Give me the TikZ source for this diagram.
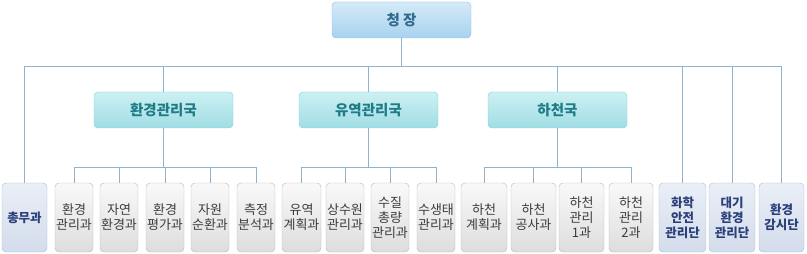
\documentclass[tikz,border=0pt]{standalone}
\usepackage{fontspec}
\newfontfamily\kr{Noto Sans CJK KR}
\usepackage{tikz}

\definecolor{linec}{HTML}{8FB3CC}
\definecolor{chiefedge}{HTML}{8CBFE2}
\definecolor{chieftext}{HTML}{2F6B8E}
\definecolor{bureauedge}{HTML}{7DD0DA}
\definecolor{bureautext}{HTML}{1F7C86}
\definecolor{divedge}{HTML}{B8B8B8}
\definecolor{divtext}{HTML}{3C3C3C}
\definecolor{unitedge}{HTML}{A9B9D3}
\definecolor{unittext}{HTML}{2B3F7A}
\definecolor{chieftop}{HTML}{D5EAF8}
\definecolor{chiefbot}{HTML}{A8D2EF}
\definecolor{bureautop}{HTML}{CCF0F3}
\definecolor{bureaubot}{HTML}{A0DEE5}
\definecolor{divtop}{HTML}{F9F9F9}
\definecolor{divbot}{HTML}{DDDDDD}
\definecolor{unittop}{HTML}{EAEFF7}
\definecolor{unitbot}{HTML}{D3DCEB}

\tikzset{
  chiefbox/.style={draw=chiefedge, top color=chieftop, bottom color=chiefbot,
    rounded corners=4pt, minimum width=139pt, minimum height=36pt, inner sep=0pt,
    text=chieftext, font=\kr\bfseries\fontsize{14.5}{16}\selectfont},
  bureaubox/.style={draw=bureauedge, top color=bureautop, bottom color=bureaubot,
    rounded corners=4pt, minimum width=139pt, minimum height=36pt, inner sep=0pt,
    text=bureautext, font=\kr\bfseries\fontsize{14.5}{16}\selectfont},
  divbox/.style={draw=divedge, top color=divtop, bottom color=divbot,
    rounded corners=4pt, minimum height=69pt, inner sep=0pt, align=center,
    text=divtext, font=\kr\fontsize{13}{15}\selectfont},
  unitbox/.style={draw=unitedge, top color=unittop, bottom color=unitbot,
    rounded corners=4pt, minimum height=69pt, inner sep=0pt, align=center,
    text=unittext, font=\kr\bfseries\fontsize{12.5}{15}\selectfont},
  link/.style={draw=linec, line width=0.9pt}
}

\begin{document}
\begin{tikzpicture}[x=1pt, y=-1pt]
\useasboundingbox (0,0) rectangle (807,254);

% Commissioner
\node[chiefbox] (chief) at (401.5,20) {청 장};

% Bureaus
\node[bureaubox] (envb) at (163.5,110) {환경관리국};
\node[bureaubox] (basinb) at (368.5,110) {유역관리국};
\node[bureaubox] (riverb) at (557.5,110) {하천국};

% Units directly under the commissioner
\node[unitbox, minimum width=45pt] (gen) at (24.5,217.5) {총무과};
\node[unitbox, minimum width=47pt] (chem) at (682.5,217.5) {화학\\안전\\관리단};
\node[unitbox, minimum width=46pt] (air) at (732,217.5) {대기\\환경\\관리단};
\node[unitbox, minimum width=45pt] (watch) at (781.5,217.5) {환경\\감시단};

% Divisions of the environment bureau
\node[divbox, minimum width=38pt] (env1) at (74,217.5) {환경\\관리과};
\node[divbox, minimum width=38pt] (env2) at (119,217.5) {자연\\환경과};
\node[divbox, minimum width=38pt] (env3) at (165,217.5) {환경\\평가과};
\node[divbox, minimum width=38pt] (env4) at (210,217.5) {자원\\순환과};
\node[divbox, minimum width=38pt] (env5) at (256,217.5) {측정\\분석과};

% Divisions of the basin bureau
\node[divbox, minimum width=39pt] (bas1) at (301.5,217.5) {유역\\계획과};
\node[divbox, minimum width=38pt] (bas2) at (345,217.5) {상수원\\관리과};
\node[divbox, minimum width=38pt] (bas3) at (390,217.5) {수질\\총량\\관리과};
\node[divbox, minimum width=38pt] (bas4) at (436,217.5) {수생태\\관리과};

% Divisions of the river bureau
\node[divbox, minimum width=46pt] (riv1) at (484,217.5) {하천\\계획과};
\node[divbox, minimum width=45pt] (riv2) at (533.5,217.5) {하천\\공사과};
\node[divbox, minimum width=45pt] (riv3) at (581.5,217.5) {하천\\관리\\1과};
\node[divbox, minimum width=44pt] (riv4) at (631,217.5) {하천\\관리\\2과};

% Main bus
\coordinate (bus) at (0,66);
\draw[link] (chief.south) -- (chief.south |- bus);
\draw[link] (gen.north) |- (watch.north |- bus) -- (watch.north);
\foreach \n in {envb, basinb, riverb, chem, air}
  \draw[link] (\n.north) -- (\n.north |- bus);

% Bureau buses
\coordinate (sub) at (0,167);
\draw[link] (envb.south) -- (envb.south |- sub);
\draw[link] (env1.north) |- (env5.north |- sub) -- (env5.north);
\foreach \n in {env2, env3, env4}
  \draw[link] (\n.north) -- (\n.north |- sub);

\draw[link] (basinb.south) -- (basinb.south |- sub);
\draw[link] (bas1.north) |- (bas4.north |- sub) -- (bas4.north);
\foreach \n in {bas2, bas3}
  \draw[link] (\n.north) -- (\n.north |- sub);

\draw[link] (riverb.south) -- (riverb.south |- sub);
\draw[link] (riv1.north) |- (riv4.north |- sub) -- (riv4.north);
\foreach \n in {riv2, riv3}
  \draw[link] (\n.north) -- (\n.north |- sub);

\end{tikzpicture}
\end{document}
